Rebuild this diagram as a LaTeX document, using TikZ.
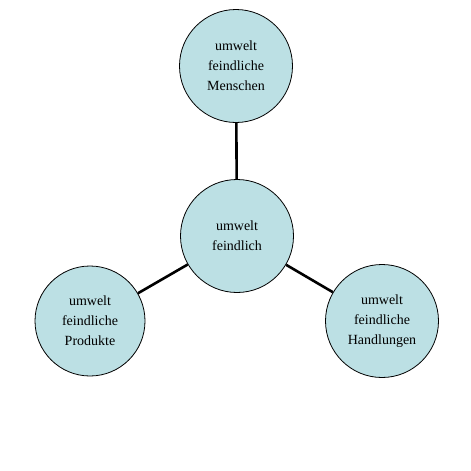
\documentclass[tikz,border=0pt]{standalone}
\usepackage{fontspec}
\setmainfont{Liberation Serif}
\definecolor{bubble}{RGB}{188,224,228}
\begin{document}
\begin{tikzpicture}[x=1pt,y=-1pt,
  bub/.style={circle,draw=black,line width=0.8pt,fill=bubble,minimum size=113pt,inner sep=0pt,align=center,font=\fontsize{14}{20}\selectfont},
  link/.style={line width=2.6pt,black}]
\useasboundingbox (0,0) rectangle (471,471);
\node[bub] (c) at (237,236) {umwelt\\feindlich};
\node[bub] (t) at (236,66) {umwelt\\feindliche\\Menschen};
\node[bub,minimum size=110pt] (l) at (90,321) {umwelt\\feindliche\\Produkte};
\node[bub,minimum size=113pt] (r) at (382,321) {umwelt\\feindliche\\Handlungen};
\draw[link] (c) -- (t);
\draw[link] (c) -- (l);
\draw[link] (c) -- (r);
\end{tikzpicture}
\end{document}
